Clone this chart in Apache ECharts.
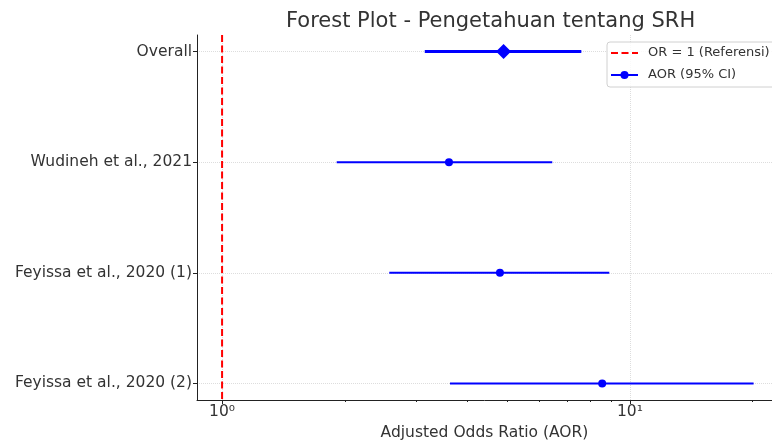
<!DOCTYPE html>
<html>
<head>
<meta charset="utf-8">
<title>Forest Plot</title>
<script src="https://cdn.jsdelivr.net/npm/echarts@6/dist/echarts.min.js"></script>
<style>
  html, body { margin: 0; padding: 0; background: #fff; }
  #main { width: 772px; height: 442px; }
</style>
</head>
<body>
<div id="main"></div>
<script>
var studies = ['Overall', 'Wudineh et al., 2021', 'Feyissa et al., 2020 (1)', 'Feyissa et al., 2020 (2)'];
var aor = [4.9, 3.6, 4.8, 8.55];
var ciLow = [3.14, 1.91, 2.57, 3.62];
var ciHigh = [7.6, 6.45, 8.9, 20.1];
var majorTicks = [1, 10];
var minorTicks = [2, 3, 4, 5, 6, 7, 8, 9, 20];
var rowTicks = [0, 1, 2, 3];

var font = 'DejaVu Sans';
var chart = echarts.init(document.getElementById('main'));

function rowSeries(i) {
    var isOverall = i === 0;
    return {
        name: 'AOR (95% CI)',
        type: 'line',
        data: [[ciLow[i], i], [aor[i], i], [ciHigh[i], i]],
        symbol: isOverall ? 'diamond' : 'circle',
        symbolSize: function (v, p) {
            if (p && p.dataIndex !== 1) return 0;
            return isOverall ? 15 : 8;
        },
        showSymbol: true,
        lineStyle: { color: '#0000ff', width: isOverall ? 3 : 2 },
        itemStyle: { color: '#0000ff' },
        z: 3,
        animation: false
    };
}

var series = [rowSeries(1), rowSeries(2), rowSeries(3), rowSeries(0)];
series.push({
    name: 'OR = 1 (Referensi)',
    type: 'line',
    data: [[1, -0.15], [1, 3.15]],
    symbol: 'none',
    lineStyle: { color: '#ff0000', width: 2, type: [7, 3.5] },
    itemStyle: { color: '#ff0000' },
    z: 2,
    animation: false
});

var option = {
    animation: false,
    textStyle: { fontFamily: font },
    title: {
        text: 'Forest Plot - Pengetahuan tentang SRH',
        left: 281,
        top: 6,
        textStyle: { fontFamily: font, fontSize: 21, fontWeight: 'normal', color: '#333' }
    },
    legend: {
        data: [
            { name: 'OR = 1 (Referensi)', itemStyle: { opacity: 0 } },
            { name: 'AOR (95% CI)' }
        ],
        orient: 'vertical',
        left: 607,
        top: 42,
        padding: [3, 8, 4, 3],
        itemGap: 6,
        itemWidth: 27,
        itemHeight: 10,
        backgroundColor: 'rgba(255,255,255,0.85)',
        borderColor: '#d0d0d0',
        borderWidth: 1,
        borderRadius: 3,
        textStyle: { fontFamily: font, fontSize: 13, color: '#333', lineHeight: 16, padding: [0, 0, 0, 5] }
    },
    grid: { left: 197, right: 0, top: 35, bottom: 42, outerBoundsMode: 'none', containLabel: false },
    xAxis: [{
        type: 'log',
        logBase: 10,
        min: 0.868,
        max: 22.3,
        position: 'bottom',
        name: 'Adjusted Odds Ratio (AOR)',
        nameLocation: 'middle',
        nameGap: 25,
        nameTextStyle: { fontFamily: font, fontSize: 15.5, color: '#333' },
        axisLine: { show: true, onZero: false, lineStyle: { color: '#222', width: 1 } },
        axisTick: { show: true, customValues: majorTicks, length: 4, lineStyle: { color: '#222' } },
        axisLabel: {
            customValues: majorTicks,
            fontFamily: font, fontSize: 15.5, color: '#333', margin: 4,
            formatter: function (v) {
                var e = Math.round(Math.log(v) / Math.LN10);
                return '10' + (e === 0 ? '\u2070' : '\u00b9');
            }
        },
        splitLine: { show: true, lineStyle: { color: '#dddddd', type: 'dotted', width: 1 } }
    }, {
        type: 'log',
        logBase: 10,
        min: 0.868,
        max: 22.3,
        position: 'bottom',
        axisLine: { show: false, onZero: false },
        axisTick: { show: true, customValues: minorTicks, length: 2, lineStyle: { color: '#222' } },
        axisLabel: { show: false },
        splitLine: { show: false }
    }],
    yAxis: {
        type: 'value',
        min: -0.15,
        max: 3.15,
        inverse: true,
        axisLine: { show: true, onZero: false, lineStyle: { color: '#222', width: 1 } },
        axisTick: { show: true, customValues: rowTicks, length: 4, lineStyle: { color: '#222' } },
        axisLabel: {
            customValues: rowTicks,
            fontFamily: font, fontSize: 15.5, color: '#333', margin: 5,
            formatter: function (v) { return studies[Math.round(v)]; }
        },
        splitLine: { show: true, lineStyle: { color: '#dddddd', type: 'dotted', width: 1 } }
    },
    series: series
};
chart.setOption(option);
</script>
</body>
</html>
